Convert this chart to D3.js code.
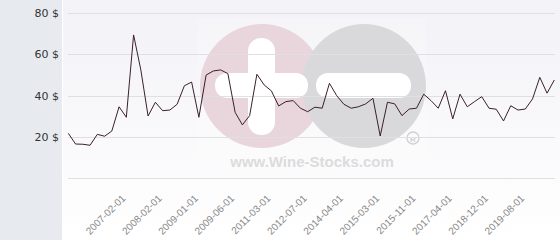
<!DOCTYPE html>
<html>
	<head>
		<meta charset="utf-8" />
		<script src="https://d3js.org/d3.v7.min.js" charset="utf-8"></script>
		<title>price</title>
		<style>
			body { margin: 0; background: #fff; }
		</style>
	</head>
	<body>
<script>
// monthly-ish price points
var prices = [21.7, 16.5, 16.4, 15.9, 21.2, 20.3, 22.8, 34.6, 29.5, 69.5,
	52.5, 30.1, 36.8, 32.7, 33.0, 35.8, 44.8, 46.6, 29.5, 50.0,
	52.0, 52.5, 50.7, 31.9, 25.8, 30.3, 50.4, 45.2, 42.3, 35.0,
	37.1, 37.6, 33.9, 32.2, 34.4, 33.9, 46.0, 40.0, 35.8, 33.9,
	34.6, 36.0, 38.7, 20.4, 36.8, 36.0, 30.3, 33.5, 33.9, 40.7,
	37.6, 33.9, 42.4, 28.7, 40.7, 34.6, 37.1, 39.5, 33.9, 33.4,
	27.7, 35.1, 33.0, 33.5, 38.4, 48.9, 41.2, 47.6]
var tickIndex = [7, 12, 17, 22, 27, 32, 37, 42, 47, 52, 57, 62]
var tickLabels = ["2007-02-01", "2008-02-01", "2009-01-01", "2009-06-01", "2011-03-01", "2012-07-01",
	"2014-04-01", "2015-03-01", "2015-11-01", "2017-04-01", "2018-12-01", "2019-08-01"]
var yTicks = [0, 20, 40, 60, 80]

var w = 560
var h = 240

var svg = d3.select("body").append("svg")
	.attr("width", w)
	.attr("height", h)

var defs = svg.append("defs")
var grad = defs.append("linearGradient")
	.attr("id", "bg")
	.attr("x1", 0).attr("y1", 0)
	.attr("x2", 0).attr("y2", 1)
grad.append("stop").attr("offset", "0%").attr("stop-color", "#f2f2f7")
grad.append("stop").attr("offset", "100%").attr("stop-color", "#ffffff")

// plot background + left panel
svg.append("rect")
	.attr("x", 63).attr("y", 0)
	.attr("width", w - 63).attr("height", h)
	.attr("fill", "url(#bg)")
svg.append("rect")
	.attr("x", 0).attr("y", 0)
	.attr("width", 62).attr("height", h)
	.attr("fill", "#e7ebef")

var x = d3.scaleLinear().domain([0, prices.length - 1]).range([68.3, 554.3])
var y = d3.scaleLinear().domain([0, 80]).range([178, 13.3])

// watermark
var wm = svg.append("g")
wm.append("rect")
	.attr("x", 197).attr("y", 18)
	.attr("width", 230).attr("height", 155)
	.attr("fill", "#ffffff").attr("opacity", 0.2)
wm.append("circle").attr("cx", 262).attr("cy", 86).attr("r", 62).attr("fill", "#e9d5dc")
wm.append("circle").attr("cx", 364).attr("cy", 86).attr("r", 62).attr("fill", "#d9d9db")
wm.append("rect").attr("x", 248).attr("y", 38).attr("width", 27).attr("height", 97)
	.attr("rx", 13).attr("fill", "#fff")
wm.append("rect").attr("x", 215).attr("y", 73).attr("width", 93).attr("height", 25)
	.attr("rx", 12).attr("fill", "#fff")
wm.append("rect").attr("x", 316).attr("y", 73).attr("width", 95).attr("height", 25)
	.attr("rx", 12).attr("fill", "#fff")
wm.append("text")
	.attr("x", 312).attr("y", 167)
	.attr("text-anchor", "middle")
	.attr("font-family", "Liberation Sans, Arial, sans-serif")
	.attr("font-weight", "bold")
	.attr("font-size", 15)
	.attr("fill", "#dcdcdc")
	.text("www.Wine-Stocks.com")
wm.append("circle").attr("cx", 413).attr("cy", 138).attr("r", 6)
	.attr("fill", "none").attr("stroke", "#d0d0d0").attr("stroke-width", 1.3)
wm.append("text")
	.attr("x", 413).attr("y", 141.5)
	.attr("text-anchor", "middle")
	.attr("font-family", "Liberation Sans, Arial, sans-serif")
	.attr("font-weight", "bold")
	.attr("font-size", 8)
	.attr("fill", "#d0d0d0")
	.text("R")

// grid + y labels
svg.append("g").selectAll("line")
	.data(yTicks)
	.enter().append("line")
	.attr("x1", 68).attr("x2", 555)
	.attr("y1", function(d) { return Math.round(y(d)) + 0.5 })
	.attr("y2", function(d) { return Math.round(y(d)) + 0.5 })
	.attr("stroke", "#e0e0e4")
	.attr("stroke-width", 1)

svg.append("g").selectAll("text")
	.data(yTicks.filter(function(d) { return d > 0 }))
	.enter().append("text")
	.attr("x", 59)
	.attr("y", function(d) { return y(d) + 4 })
	.attr("text-anchor", "end")
	.attr("font-family", "DejaVu Sans, sans-serif")
	.attr("font-size", 11)
	.attr("fill", "#333")
	.text(function(d) { return d + " $" })

// x labels
svg.append("g").selectAll("text")
	.data(tickIndex)
	.enter().append("text")
	.attr("transform", function(d) { return "translate(" + (x(d) + 7) + ",199) rotate(-45)" })
	.attr("text-anchor", "end")
	.attr("font-family", "Liberation Sans, Arial, sans-serif")
	.attr("font-size", 10)
	.attr("fill", "#888")
	.text(function(d, i) { return tickLabels[i] })

// price line
var line = d3.line()
	.x(function(d, i) { return x(i) })
	.y(function(d) { return y(d) })
svg.append("path")
	.datum(prices)
	.attr("d", line)
	.attr("fill", "none")
	.attr("stroke", "#3b1f2b")
	.attr("stroke-width", 1)
</script>
	</body>
</html>
